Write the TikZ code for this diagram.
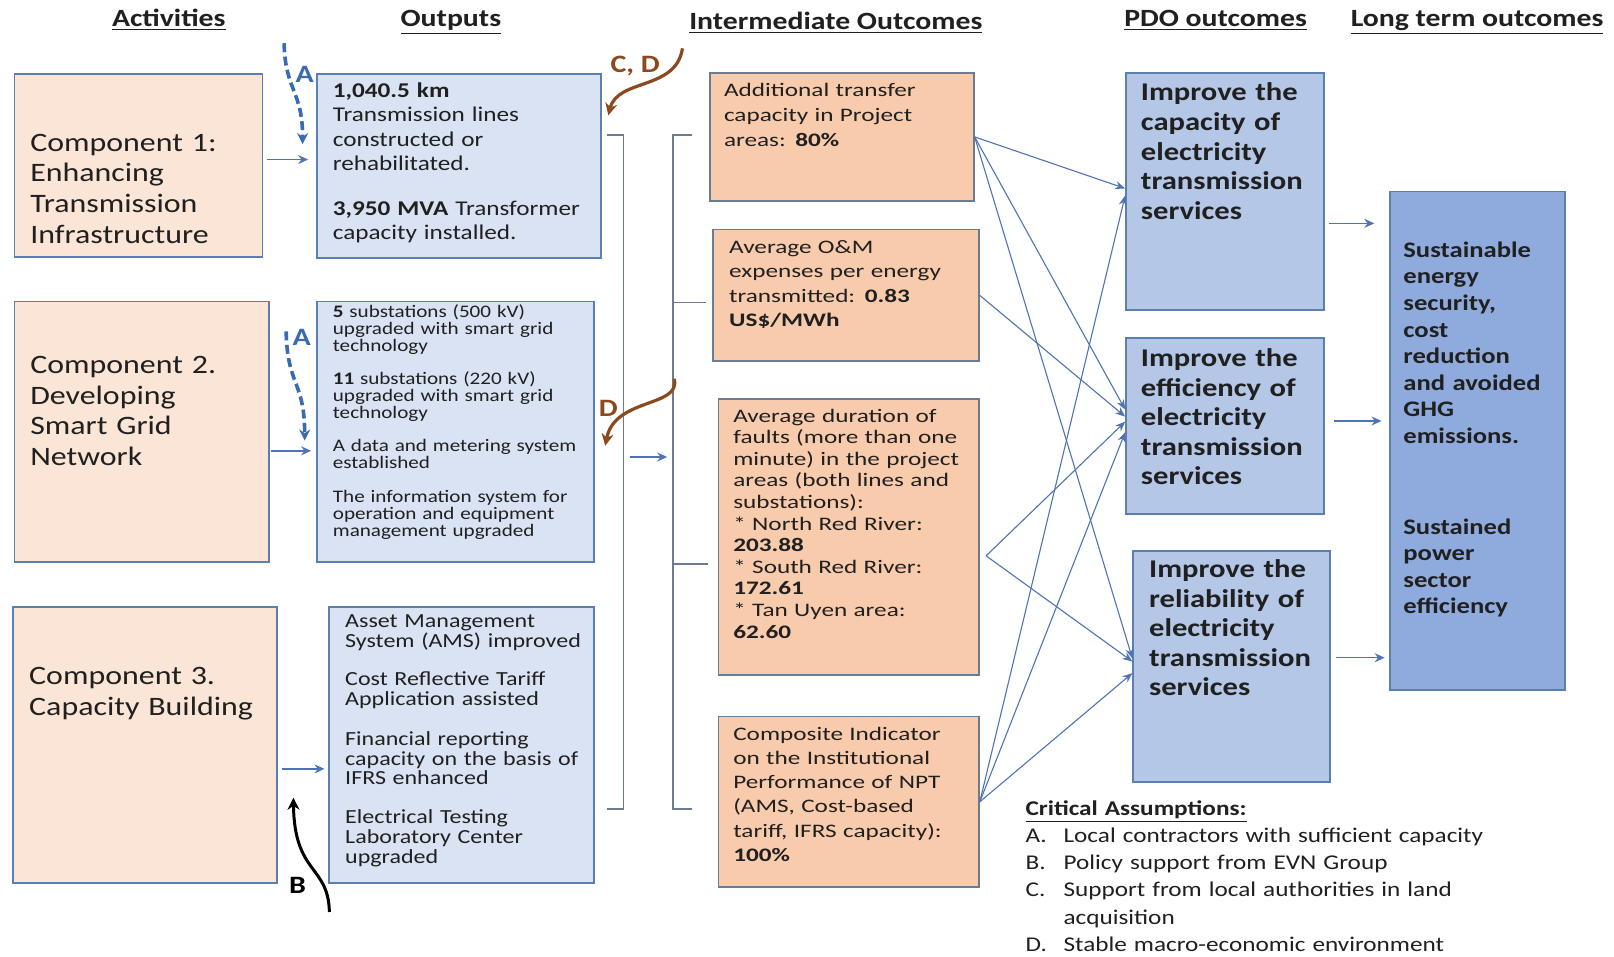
\documentclass[tikz,border=0pt]{standalone}
\usepackage{fontspec}
\setmainfont{Carlito}[FakeStretch=1.2]
\newfontfamily\interfont{Carlito}[FakeStretch=1.32]
\usetikzlibrary{arrows.meta}
\usetikzlibrary{fit}
\usetikzlibrary{positioning}

\definecolor{compfill}{HTML}{FBE5D6}
\definecolor{outfill}{HTML}{DAE3F3}
\definecolor{intfill}{HTML}{F8CBAD}
\definecolor{pdofill}{HTML}{B4C7E7}
\definecolor{longfill}{HTML}{8FAADC}
\definecolor{boxline}{HTML}{5B7FAE}
\definecolor{intline}{HTML}{6B7C90}
\definecolor{linkcol}{HTML}{4F74B5}
\definecolor{dashcol}{HTML}{3A6BB0}
\definecolor{browncol}{HTML}{8A4A1E}
\definecolor{textcol}{HTML}{202020}

\tikzset{
  box/.style={draw=boxline, line width=0.9pt, inner sep=0pt},
  compbox/.style={box, fill=compfill},
  outbox/.style={box, fill=outfill},
  intbox/.style={box, draw=intline, fill=intfill},
  pdobox/.style={box, fill=pdofill},
  longbox/.style={box, fill=longfill},
  txt/.style={inner sep=0pt, anchor=base west, align=left, text width=180pt, text=textcol},
  comptxt/.style={txt, font=\fontsize{13.3}{15.3}\selectfont},
  inttxt/.style={txt, font=\interfont\fontsize{9.55}{#1}\selectfont},
  pdotxt/.style={txt, font=\bfseries\fontsize{12.75}{14.8}\selectfont},
  head/.style={inner sep=0pt, anchor=base, text=textcol, font=\bfseries\fontsize{12.4}{14}\selectfont},
  flow/.style={draw=linkcol, line width=0.7pt, -{Stealth[length=5pt, width=4.5pt]}},
  link/.style={draw=linkcol, line width=0.55pt, -{Stealth[length=5pt, width=4pt]}},
  bracket/.style={draw=intline, line width=0.7pt},
  dasharrow/.style={draw=dashcol, line width=1.8pt, dash pattern=on 4.5pt off 2.2pt, -{Stealth[length=5.5pt, width=5.5pt]}},
  brownarrow/.style={draw=browncol, line width=1.6pt, -{Stealth[length=6pt, width=6pt]}},
  blackarrow/.style={draw=black, line width=1.5pt, -{Stealth[length=6pt, width=6pt]}},
  albl/.style={inner sep=0pt, font=\bfseries\fontsize{12.5}{14}\selectfont},
}

\begin{document}
\begin{tikzpicture}[x=0.5147pt, y=-0.5147pt]
\useasboundingbox[fill=white] (0,0) rectangle (1568,929);

% column headings
\node[head] (hact) at (164,26) {\underline{Activities}};
\node[head] (hout) at (438,26) {\underline{Outputs}};
\node[head] (hint) at (812,29) {\underline{Intermediate Outcomes}};
\node[head] (hpdo) at (1181,26) {\underline{PDO outcomes}};
\node[head] (hlong) at (1435,26) {\underline{Long term outcomes}};

% activities
\node[compbox, fit={(14,72) (255,250)}] (c1) {};
\node[compbox, fit={(14,293) (261,546)}] (c2) {};
\node[compbox, fit={(13,590) (269,858)}] (c3) {};
\node[comptxt] (c1t) at (29,147) {Component 1:\\Enhancing\\Transmission\\Infrastructure};
\node[comptxt] (c2t) at (29,363) {Component 2.\\Developing\\Smart Grid\\Network};
\node[comptxt] (c3t) at (28,665) {Component 3.\\Capacity Building};

% outputs
\node[outbox, fit={(308,72) (584,251)}] (o1) {};
\node[outbox, fit={(308,293) (577,546)}] (o2) {};
\node[outbox, fit={(320,590) (577,858)}] (o3) {};
\node[txt, font=\fontsize{10.5}{12.1}\selectfont] (o1t) at (323,95)
  {\textbf{1,040.5 km}\\Transmission lines\\constructed or\\rehabilitated.\\[10.5pt]
   \textbf{3,950 MVA} Transformer\\capacity installed.};
\node[txt, font=\fontsize{8.8}{8.6}\selectfont] (o2t) at (323,308)
  {\textbf{5} substations (500 kV)\\upgraded with smart grid\\technology\\[7.7pt]
   \textbf{11} substations (220 kV)\\upgraded with smart grid\\technology\\[7.7pt]
   A data and metering system\\established\\[8.5pt]
   The information system for\\operation and equipment\\management upgraded};
\node[txt, font=\fontsize{10}{9.8}\selectfont] (o3t) at (335,610)
  {Asset Management\\System (AMS) improved\\[9.3pt]
   Cost Reflective Tariff\\Application assisted\\[10.3pt]
   Financial reporting\\capacity on the basis of\\IFRS enhanced\\[9.8pt]
   Electrical Testing\\Laboratory Center\\upgraded};

% intermediate outcomes
\node[intbox, fit={(690,71) (946,195)}] (i1) {};
\node[intbox, fit={(693,223) (951,351)}] (i2) {};
\node[intbox, fit={(698,388) (951,656)}] (i3) {};
\node[intbox, fit={(698,696) (951,862)}] (i4) {};
\node[inttxt=12.35] (i1t) at (703,94) {Additional transfer\\capacity in Project\\areas: \textbf{80\%}};
\node[inttxt=12.2] (i2t) at (708,246) {Average O\&M\\expenses per energy\\transmitted: \textbf{0.83}\\\textbf{US\$/MWh}};
\node[inttxt=10.8] (i3t) at (712,410)
  {Average duration of\\faults (more than one\\minute) in the project\\areas (both lines and\\substations):\\
   {*} North Red River:\\\textbf{203.88}\\{*} South Red River:\\\textbf{172.61}\\{*} Tan Uyen area:\\\textbf{62.60}};
\node[inttxt=12.15] (i4t) at (712,719)
  {Composite Indicator\\on the Institutional\\Performance of NPT\\(AMS, Cost-based\\tariff, IFRS capacity):\\\textbf{100\%}};

% PDO and long term outcomes
\node[pdobox, fit={(1094,71) (1286,301)}] (p1) {};
\node[pdobox, fit={(1094,328) (1286,499)}] (p2) {};
\node[pdobox, fit={(1101,535) (1292,760)}] (p3) {};
\node[longbox, fit={(1350,186) (1520,670)}] (lt) {};
\node[pdotxt] (p1t) at (1108,98) {Improve the\\capacity of\\electricity\\transmission\\services};
\node[pdotxt] (p2t) at (1108,356) {Improve the\\efficiency of\\electricity\\transmission\\services};
\node[pdotxt] (p3t) at (1116,561) {Improve the\\reliability of\\electricity\\transmission\\services};
\node[txt, font=\bfseries\fontsize{11.1}{13.3}\selectfont] (ltt) at (1363,250)
  {Sustainable\\energy\\security,\\cost\\reduction\\and avoided\\GHG\\emissions.\\[32pt]
   Sustained\\power\\sector\\efficiency};

% critical assumptions
\node[txt, text width=330pt, font=\fontsize{10.5}{13.6}\selectfont] (crit) at (996,792)
  {\textbf{\underline{Critical Assumptions:}}\\
   \makebox[19pt][l]{A.}Local contractors with sufficient capacity\\
   \makebox[19pt][l]{B.}Policy support from EVN Group\\
   \makebox[19pt][l]{C.}Support from local authorities in land\\
   \hspace*{19pt}acquisition\\
   \makebox[19pt][l]{D.}Stable macro-economic environment};

% activities to outputs
\draw[flow, shorten <=2pt, shorten >=4pt] (c1.east |- 0,155) -- (o1.west |- 0,155);
\draw[flow, shorten <=0.5pt, shorten >=2.5pt] (c2.east |- 0,438) -- (o2.west |- 0,438);
\draw[flow, shorten <=2pt, shorten >=2pt] (c3.east |- 0,747) -- (o3.west |- 0,747);

% brackets between outputs and intermediate outcomes
\draw[bracket] (590,131) -- (606,131) -- (606,786) -- (590,786);
\draw[bracket] (672,131) -- (654,131) -- (654,786) -- (672,786);
\draw[bracket] (654,294) -- (686,294);
\draw[bracket] (654,548) -- (688,548);
\coordinate (b1) at (606,444);
\coordinate (b2) at (654,444);
\draw[flow, shorten <=3pt, shorten >=3pt] (b1) -- (b2);

% intermediate to PDO outcomes
\coordinate (i3o) at (958,540);
\draw[link] (i1.east) -- ([yshift=1.5pt]p1.west);
\draw[link] (i1.east) -- ([yshift=8pt]p2.west);
\draw[link] (i1.east) -- ([yshift=4pt]p3.west);
\draw[link] (i2.east) -- ([yshift=4.5pt]p2.west);
\draw[link] (i3o) -- ([yshift=2pt]p2.west);
\draw[link] (i3o) -- ([yshift=2.5pt]p3.west);
\draw[link] (i4.east) -- ([yshift=-2pt]p1.west);
\draw[link] (i4.east) -- ([yshift=-3.3pt]p2.west);
\draw[link] (i4.east) -- ([yshift=-3.3pt]p3.west);

% PDO to long term
\draw[flow, shorten <=2pt, shorten >=7.2pt] (p1.east |- 0,217) -- (lt.west |- 0,217);
\draw[flow, shorten <=4.6pt, shorten >=3.6pt] (p2.east |- 0,409) -- (lt.west |- 0,409);
\draw[flow, shorten <=2.6pt, shorten >=2pt] (p3.east |- 0,639) -- (lt.west |- 0,639);

% assumption markers
\coordinate (a1s) at (276,42);
\coordinate (a1e) at (294,140);
\draw[dasharrow] (a1s) .. controls (277,88) and (294,88) .. (a1e);
\node[albl, text=dashcol] (a1) at (296,72) {A};
\coordinate (a2s) at (278,322);
\coordinate (a2e) at (296,428);
\draw[dasharrow] (a2s) .. controls (279,375) and (296,370) .. (a2e);
\node[albl, text=dashcol] (a2) at (293,328) {A};
\coordinate (bs) at (320,886);
\coordinate (be) at (285,775);
\draw[blackarrow] (bs) .. controls (319,840) and (286,850) .. (be);
\node[albl, text=black] (bl) at (289,860) {B};
\coordinate (cds) at (663,47);
\coordinate (cde) at (591,112);
\draw[brownarrow] (cds) .. controls (657,88) and (600,76) .. (cde);
\node[albl, text=browncol] (cdl) at (617,64) {C, D};
\coordinate (ds) at (655,368);
\coordinate (de) at (588,433);
\draw[brownarrow] (ds) .. controls (662,396) and (597,386) .. (de);
\node[albl, text=browncol] (dl) at (591,397) {D};
\end{tikzpicture}
\end{document}
